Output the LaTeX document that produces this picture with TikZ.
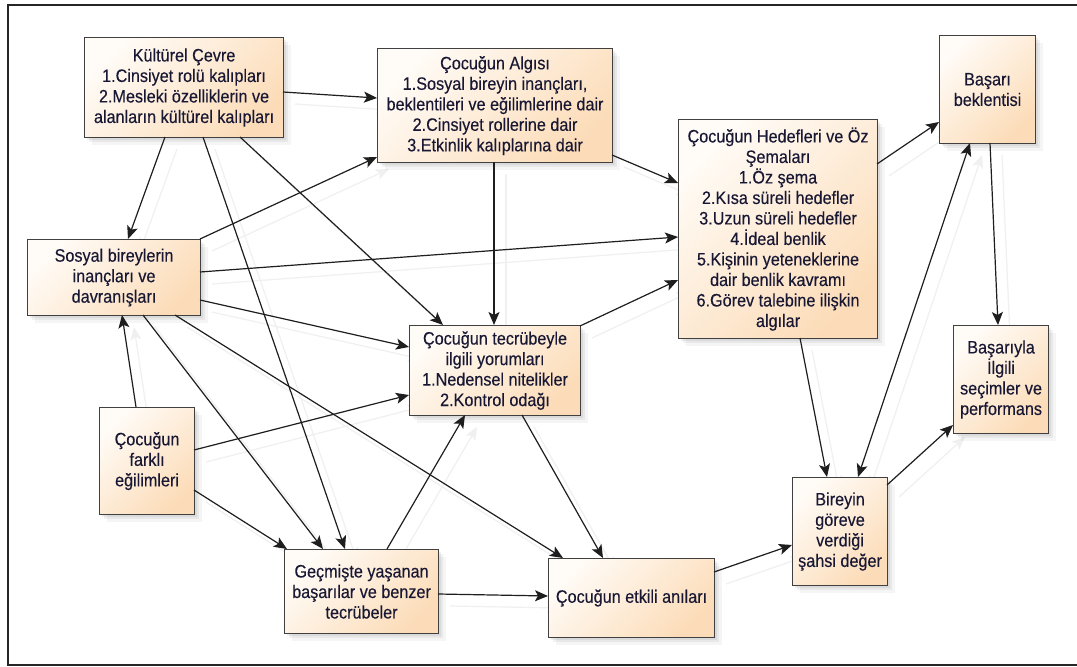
\documentclass[tikz,border=0pt]{standalone}
\usepackage{fontspec}
\setmainfont{Liberation Sans}[FakeStretch=0.9,FakeBold=0.25]
\usetikzlibrary{arrows.meta,shadows,calc}
\definecolor{peach}{RGB}{252,220,184}
\definecolor{peachlight}{RGB}{255,251,246}
\definecolor{txt}{RGB}{24,24,52}
\definecolor{edgecol}{RGB}{30,30,30}
\pgfdeclarelayer{bgfill}
\pgfdeclarelayer{edgeshadow}
\pgfsetlayers{bgfill,edgeshadow,main}
\newcommand\edgeab[5]{%
  \begin{pgfonlayer}{edgeshadow}\draw[#1,shadowline] ($(#2)+#3+(12,12)$) -- ($(#4)+#5+(12,12)$);\end{pgfonlayer}
  \draw[#1] ($(#2)+#3$) -- ($(#4)+#5$);}
\begin{document}
\begin{tikzpicture}[x=1pt,y=-1pt,
  box/.style={draw=black!75, line width=1.1pt, top color=peachlight, bottom color=peach,
    shading angle=45, align=center, font=\fontsize{18}{20.5}\selectfont, text=txt,
    inner sep=1pt, anchor=north west,
    general shadow={shadow xshift=7pt, shadow yshift=-7pt, fill=black, opacity=0.04},
    general shadow={shadow xshift=4.5pt, shadow yshift=-4.5pt, fill=black, opacity=0.05},
    general shadow={shadow xshift=2.5pt, shadow yshift=-2.5pt, fill=black, opacity=0.06}},
  tip/.tip={Stealth[length=13pt,width=11pt,inset=3pt]},
  conn/.style={-tip, line width=1.2pt, draw=edgecol},
  conn2/.style={tip-tip, line width=1.2pt, draw=edgecol},
  shadowline/.style={draw=black!6, fill=black!6},
]
\useasboundingbox (0,0) rectangle (1077,667);
\begin{pgfonlayer}{bgfill}
\fill[white] (0,0) rectangle (1077,667);
\end{pgfonlayer}
\draw[line width=1.8pt, black!85] (1077,5) -- (8,5) -- (8,665) -- (1077,665);

\node[box, minimum width=199pt, minimum height=100pt] (K) at (84,37)
  {Kültürel Çevre\\1.Cinsiyet rolü kalıpları\\2.Mesleki özelliklerin ve\\alanların kültürel kalıpları};
\node[box, minimum width=235pt, minimum height=114pt] (A) at (377,48)
  {Çocuğun Algısı\\1.Sosyal bireyin inançları,\\beklentileri ve eğilimlerine dair\\2.Cinsiyet rollerine dair\\3.Etkinlik kalıplarına dair};
\node[box, minimum width=199pt, minimum height=219pt] (H) at (678,119)
  {Çocuğun Hedefleri ve Öz\\Şemaları\\1.Öz şema\\2.Kısa süreli hedefler\\3.Uzun süreli hedefler\\4.İdeal benlik\\5.Kişinin yeteneklerine\\dair benlik kavramı\\6.Görev talebine ilişkin\\algılar};
\node[box, minimum width=96pt, minimum height=108pt] (B) at (939,35)
  {Başarı\\beklentisi};
\node[box, minimum width=95pt, minimum height=108pt] (P) at (953,325)
  {Başarıyla\\İlgili\\seçimler ve\\performans};
\node[box, minimum width=95pt, minimum height=108pt] (D) at (792,477)
  {Bireyin\\göreve\\verdiği\\şahsi değer};
\node[box, minimum width=166pt, minimum height=79pt] (E) at (548,558)
  {Çocuğun etkili anıları};
\node[box, minimum width=154pt, minimum height=84pt] (G) at (284,549)
  {Geçmişte yaşanan\\başarılar ve benzer\\tecrübeler};
\node[box, minimum width=95pt, minimum height=107pt] (F) at (99,407)
  {Çocuğun\\farklı\\eğilimleri};
\node[box, minimum width=173pt, minimum height=76pt] (S) at (27,239)
  {Sosyal bireylerin\\inançları ve\\davranışları};
\node[box, minimum width=171pt, minimum height=90pt] (T) at (409,325)
  {Çocuğun tecrübeyle\\ilgili yorumları\\1.Nedensel nitelikler\\2.Kontrol odağı};

% connectors
\edgeab{conn}{K.north west}{(199,55)}{A.north west}{(0,50)}
\edgeab{conn}{K.north west}{(81,100)}{S.north west}{(101,0)}
\edgeab{conn}{K.north west}{(119,100)}{G.north west}{(61,0)}
\edgeab{conn}{K.north west}{(156,100)}{T.north west}{(34,0)}

\edgeab{conn}{S.north west}{(173,0)}{A.north west}{(0,109)}
\edgeab{conn}{S.north west}{(173,33)}{H.north west}{(0,118)}
\edgeab{conn}{S.north west}{(173,61)}{T.north west}{(0,22)}
\edgeab{conn}{S.north west}{(116,76)}{G.north west}{(39,0)}
\edgeab{conn}{S.north west}{(148,76)}{E.north west}{(15,0)}

\edgeab{conn}{F.north west}{(37,0)}{S.north west}{(95,76)}
\edgeab{conn}{F.north west}{(95,43)}{T.north west}{(0,70)}
\edgeab{conn}{F.north west}{(95,83)}{G.north west}{(3,0)}

\edgeab{conn}{G.north west}{(103,0)}{T.north west}{(56,90)}
\edgeab{conn}{G.north west}{(154,45)}{E.north west}{(0,38)}

\edgeab{conn}{A.north west}{(117,114)}{T.north west}{(85,0)}
\edgeab{conn}{A.north west}{(235,107)}{H.north west}{(0,64)}

\edgeab{conn}{T.north west}{(171,1)}{H.north west}{(0,161)}
\edgeab{conn}{T.north west}{(113,90)}{E.north west}{(55,0)}

\edgeab{conn}{H.north west}{(199,45)}{B.north west}{(0,87)}
\edgeab{conn}{H.north west}{(122,219)}{D.north west}{(35,0)}

\edgeab{conn}{B.north west}{(51,108)}{P.north west}{(45,0)}
\edgeab{conn2}{D.north west}{(66,0)}{B.north west}{(31,108)}
\edgeab{conn}{D.north west}{(95,8)}{P.north west}{(0,100)}
\edgeab{conn}{E.north west}{(166,14)}{D.north west}{(0,68)}
\end{tikzpicture}
\end{document}
